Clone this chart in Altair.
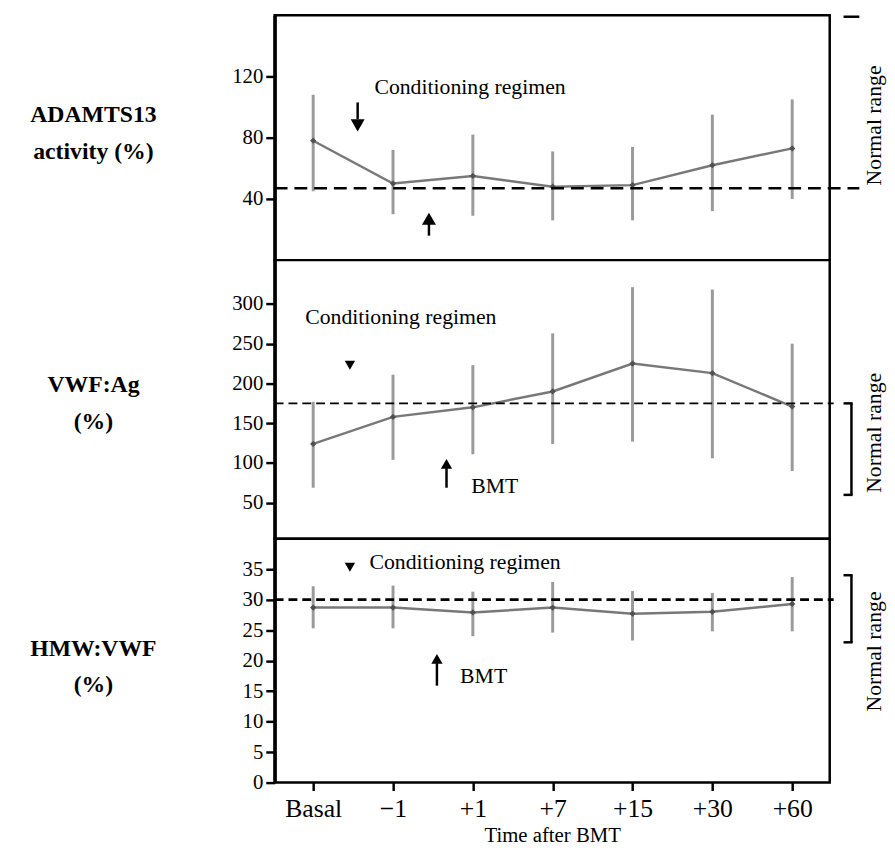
import json
import altair as alt
import pandas as pd

# ---------------- data ----------------
times = ["Basal", "−1", "+1", "+7", "+15", "+30", "+60"]
idx = list(range(len(times)))

adam_mean = [78, 50, 55, 48, 49, 62, 73]
adam_hi = [108, 72, 82, 71, 74, 95, 105]
adam_lo = [45, 30, 29, 26, 26, 32, 40]

vwf_mean = [124, 158, 170, 190, 225, 213, 171]
vwf_hi = [177, 211, 223, 263, 321, 318, 250]
vwf_lo = [69, 104, 111, 124, 127, 106, 90]

hmw_mean = [28.7, 28.7, 27.9, 28.7, 27.7, 28.0, 29.3]
hmw_hi = [32.2, 32.3, 31.3, 32.9, 31.4, 31.1, 33.7]
hmw_lo = [25.3, 25.3, 24.0, 24.6, 23.3, 24.8, 24.8]

adam_ticks = [40, 80, 120]
vwf_ticks = [50, 100, 150, 200, 250, 300]
hmw_ticks = [0, 5, 10, 15, 20, 25, 30, 35]

adam_threshold = 47
vwf_threshold = 175
hmw_threshold = 30
adam_top = 159
vwf_normal = [60, 175]
hmw_normal = [23, 34]

cond_label = "Conditioning regimen"
bmt_label = "BMT"
normal_label = "Normal range"

# ---------------- layout constants ----------------
SERIF = "'Liberation Serif', 'Times New Roman', Times, serif"
W = 562
XDOM = [-0.4825, 6.47]
label_expr = json.dumps(times, ensure_ascii=False) + "[datum.value]"


def make_panel(mean, hi, lo, ydom, yticks, ytitle, title_y, h,
               thr, thr_x2, thr_dash, thr_w,
               texts, shafts, heads, nr_y,
               bracket=None, top_mark=None, show_x=False):
    df = pd.DataFrame({"i": idx, "m": mean, "hi": hi, "lo": lo})
    xs = alt.Scale(domain=XDOM, nice=False, zero=False)
    ys = alt.Scale(domain=ydom, nice=False, zero=False)
    if show_x:
        xaxis = alt.Axis(values=idx, labelExpr=label_expr, title="Time after BMT",
                         grid=False, domain=False, tickSize=8, tickWidth=2.5,
                         tickColor="black", labelFontSize=26, labelFont=SERIF,
                         labelColor="black", labelPadding=5, labelFlush=False,
                         titleFont=SERIF, titleFontSize=21, titleFontWeight="normal",
                         titleColor="black", titlePadding=4)
    else:
        xaxis = None
    yaxis = alt.Axis(values=yticks, title=ytitle, titleAngle=0, titleAlign="center",
                     titleBaseline="middle", titleX=-184, titleY=title_y,
                     titleFont=SERIF, titleFontSize=24, titleFontWeight="bold",
                     titleColor="black", titleLineHeight=37,
                     labelFont=SERIF, labelFontSize=21, labelColor="black",
                     labelPadding=3, grid=False, tickSize=9, tickWidth=2.5,
                     tickColor="black", domain=True, domainColor="black",
                     domainWidth=3.5)

    def X(f):
        return alt.X(f, scale=xs, axis=xaxis)

    def Y(f):
        return alt.Y(f, scale=ys, axis=yaxis)

    base = alt.Chart(df)
    err = base.mark_rule(color="#9a9a9a", strokeWidth=3).encode(
        x=X("i:Q"), y=Y("lo:Q"), y2="hi:Q",
    )
    line = base.mark_line(color="#787878", strokeWidth=2.5).encode(
        x=X("i:Q"), y=Y("m:Q"),
    )
    pts = base.mark_point(shape="diamond", filled=True, size=40, color="#505050",
                          opacity=1).encode(x=X("i:Q"), y=Y("m:Q"))
    dashed = alt.Chart(pd.DataFrame({"v": [thr]})).mark_rule(
        color="black", strokeDash=thr_dash, strokeWidth=thr_w).encode(
        x=alt.value(0), x2=alt.value(thr_x2), y=Y("v:Q"),
    )
    tdf = pd.DataFrame(texts, columns=["x", "y", "t"])
    txt = alt.Chart(tdf).mark_text(align="left", baseline="middle", font=SERIF,
                                   fontSize=22, color="black").encode(
        x=X("x:Q"), y=Y("y:Q"), text="t:N",
    )
    layers = [err, line, pts, dashed, txt]
    if shafts:
        sdf = pd.DataFrame(shafts, columns=["x", "y1", "y2"])
        layers.append(alt.Chart(sdf).mark_rule(color="black", strokeWidth=2.5).encode(
            x=X("x:Q"), y=Y("y1:Q"), y2="y2:Q",
        ))
    hdf = pd.DataFrame(heads, columns=["x", "y", "s", "sz"])
    layers.append(alt.Chart(hdf).mark_point(filled=True, color="black", opacity=1).encode(
        x=X("x:Q"), y=Y("y:Q"),
        shape=alt.Shape("s:N", scale=None),
        size=alt.Size("sz:Q", scale=None),
    ))
    layers.append(alt.Chart(pd.DataFrame({"y": [nr_y], "t": [normal_label]})).mark_text(
        angle=270, align="center", baseline="middle", font=SERIF, fontSize=22,
        color="black").encode(
        x=alt.value(W + 45), y=Y("y:Q"), text="t:N",
    ))
    if bracket:
        bdf = pd.DataFrame({"lo": [bracket[0]], "hi": [bracket[1]]})
        layers.append(alt.Chart(bdf).mark_rule(color="black", strokeWidth=2.5).encode(
            x=alt.value(W + 22), y=Y("lo:Q"), y2="hi:Q",
        ))
        sdf2 = pd.DataFrame({"v": bracket})
        layers.append(alt.Chart(sdf2).mark_rule(color="black", strokeWidth=2.5).encode(
            x=alt.value(W + 14), x2=alt.value(W + 23.2), y=Y("v:Q"),
        ))
    if top_mark is not None:
        layers.append(alt.Chart(pd.DataFrame({"v": [top_mark]})).mark_rule(
            color="black", strokeWidth=2.5).encode(
            x=alt.value(W + 14), x2=alt.value(W + 30), y=Y("v:Q"),
        ))
    return alt.layer(*layers).properties(width=W, height=h)


p1 = make_panel(
    adam_mean, adam_hi, adam_lo, [0, 160], adam_ticks,
    ["ADAMTS13", "activity (%)"], 101, 248,
    adam_threshold, W + 30, [13, 7], 2.5,
    texts=[(0.767, 113, cond_label)],
    shafts=[(0.557, 92, 103), (1.45, 16, 26)],
    heads=[(0.557, 88, "triangle-down", 200), (1.45, 27, "triangle-up", 200)],
    nr_y=88, top_mark=adam_top,
)

p2 = make_panel(
    vwf_mean, vwf_hi, vwf_lo, [5, 355], vwf_ticks,
    ["VWF:Ag", "(%)"], 126, 282,
    vwf_threshold, W + 4, [9, 5], 1.8,
    texts=[(-0.10, 284, cond_label), (1.98, 71, bmt_label)],
    shafts=[(1.67, 69, 98)],
    heads=[(0.46, 223, "triangle-down", 110), (1.67, 99, "triangle-up", 130)],
    nr_y=138, bracket=vwf_normal,
)

p3 = make_panel(
    hmw_mean, hmw_hi, hmw_lo, [0, 40], hmw_ticks,
    ["HMW:VWF", "(%)"], 111, 247,
    hmw_threshold, W + 4, [9, 5], 3,
    texts=[(0.705, 36.1, cond_label), (1.84, 17.5, bmt_label)],
    shafts=[(1.55, 15.9, 20.0)],
    heads=[(0.46, 35.3, "triangle-down", 110), (1.55, 20.3, "triangle-up", 130)],
    nr_y=21.5, bracket=hmw_normal, show_x=True,
)

chart = alt.vconcat(p1, p2, p3, spacing=0, bounds="flush").properties(
    padding={"left": 20, "top": 0, "right": 0, "bottom": 0},
    background="white",
).configure_view(stroke="black", strokeWidth=2.5, fill="white")

chart.save("out.html", embed_options={"renderer": "svg", "actions": False})
